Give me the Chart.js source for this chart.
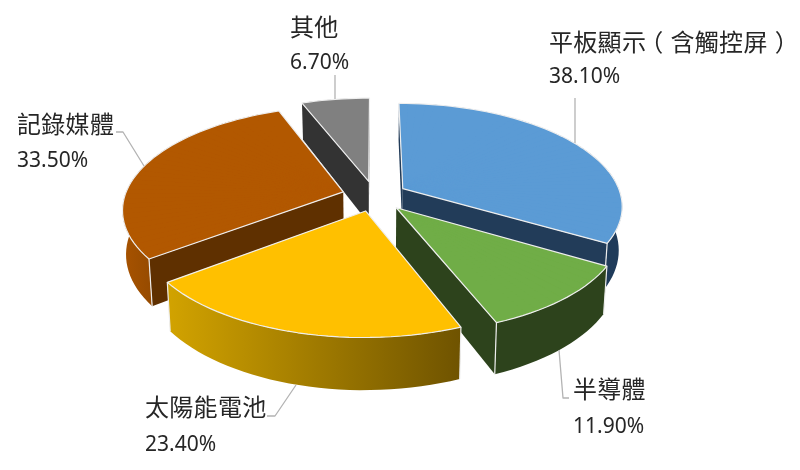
<!DOCTYPE html>
<html>
<head>
<meta charset="utf-8">
<script src="https://cdn.jsdelivr.net/npm/chart.js@4"></script>
<style>
  html, body { margin: 0; padding: 0; background: #fff; }
  canvas { display: block; }
</style>
</head>
<body>
<canvas id="pie" width="800" height="470"></canvas>
<script>
const categories = ["平板顯示（含觸控屏）", "半導體", "太陽能電池", "記錄媒體", "其他"];
const shares = [38.1, 11.9, 23.4, 33.5, 6.7];

const topColors = ["#5b9bd5", "#70ad47", "#ffc000", "#b25800", "#808080"];
const innerWallColors = ["#223c59", "#2d431c", "#7a5b00", "#5f3000", "#333333"];
const outerWallLeft = ["#1f3b5a", "#2d431c", "#d2a300", "#a85300", "#333333"];
const outerWallRight = ["#1f3b5a", "#2d431c", "#6f5300", "#8c4600", "#333333"];

// where the label block sits: x, baseline of name, baseline of percent
const labelSpots = [[549, 51, 83], [573, 398, 433], [145, 416, 451], [17, 133, 167], [290, 36, 69]];
const leaders = [
  [[575, 98], [575, 143]],
  [[569, 398], [563, 398], [559, 350]],
  [[267, 416], [275, 416], [296, 385]],
  [[116, 132], [123, 132], [144, 166]],
  [[335, 75], [335, 99]]
];

// camera for the tilted pie
const view = { cx: 374.6, cy: 196, rx: 218.5, rz: 101, persp: 0.16, depth: 43, explode: 0.15, taper: 0.014 };

function project(x, z, h) {
  const s = 1 / (1 - view.persp * z);
  return [view.cx + view.rx * x * s * (1 - view.taper * h), view.cy + (view.rz * z + view.depth * h) * s];
}

function drawTop(ctx, arc, i, ox, oz) {
  const R = arc.outerRadius;
  const steps = Math.ceil(arc.circumference / 0.05);
  const ghost = Object.create(arc);
  ghost.options = Object.assign({}, arc.options, { backgroundColor: topColors[i], borderWidth: 0 });
  const p0 = project(ox, oz, 0);

  // underlay so the seams between the wedges can't show what is behind
  ctx.fillStyle = topColors[i];
  polygon(ctx, [p0].concat(rimPoints(ox, oz, arc.startAngle, arc.endAngle, 0)));
  ctx.closePath();
  ctx.fill();

  for (let k = 0; k < steps; k++) {
    const a1 = arc.startAngle + arc.circumference * k / steps;
    const a2 = arc.startAngle + arc.circumference * (k + 1) / steps;
    const v1 = [Math.cos(a1), Math.sin(a1)];
    const v2 = [Math.cos(a2), Math.sin(a2)];
    const p1 = project(ox + v1[0], oz + v1[1], 0);
    const p2 = project(ox + v2[0], oz + v2[1], 0);
    const d1 = [p1[0] - p0[0], p1[1] - p0[1]];
    const d2 = [p2[0] - p0[0], p2[1] - p0[1]];
    const det = (v1[0] * v2[1] - v1[1] * v2[0]) * R;
    const a = (d1[0] * v2[1] - d2[0] * v1[1]) / det;
    const c = (d2[0] * v1[0] - d1[0] * v2[0]) / det;
    const b = (d1[1] * v2[1] - d2[1] * v1[1]) / det;
    const d = (d2[1] * v1[0] - d1[1] * v2[0]) / det;
    ghost.startAngle = a1;
    ghost.endAngle = a2;
    ghost.circumference = a2 - a1;
    ctx.save();
    ctx.transform(a, b, c, d, p0[0] - a * arc.x - c * arc.y, p0[1] - b * arc.x - d * arc.y);
    ghost.draw(ctx);
    ctx.restore();
  }
}

function polygon(ctx, pts) {
  ctx.beginPath();
  pts.forEach((p, n) => n ? ctx.lineTo(p[0], p[1]) : ctx.moveTo(p[0], p[1]));
}

function rimPoints(ox, oz, from, to, h) {
  const pts = [];
  const steps = Math.max(2, Math.ceil((to - from) / 0.04));
  for (let k = 0; k <= steps; k++) {
    const t = from + (to - from) * k / steps;
    pts.push(project(ox + Math.cos(t), oz + Math.sin(t), h));
  }
  return pts;
}

function signedArea(pts) {
  let sum = 0;
  pts.forEach((p, n) => {
    const q = pts[(n + 1) % pts.length];
    sum += p[0] * q[1] - q[0] * p[1];
  });
  return sum;
}

function drawSlice(ctx, arc, i) {
  const start = arc.startAngle;
  const end = arc.endAngle;
  const mid = (start + end) / 2;
  const ox = view.explode * Math.cos(mid);
  const oz = view.explode * Math.sin(mid);
  const cornerA = [ox + Math.cos(start), oz + Math.sin(start)];
  const cornerB = [ox + Math.cos(end), oz + Math.sin(end)];

  // straight cut walls, only the ones facing the viewer
  [[cornerA, -1], [cornerB, 1]].forEach(([c, facing]) => {
    const quad = [project(ox, oz, 0), project(c[0], c[1], 0), project(c[0], c[1], 1), project(ox, oz, 1)];
    if (signedArea(quad) * facing > 0) {
      ctx.fillStyle = innerWallColors[i];
      polygon(ctx, quad);
      ctx.closePath();
      ctx.fill();
    }
  });

  // curved outer wall, runs a bit past the sides so it tucks in under the top
  const from = Math.max(start, -0.5);
  const to = Math.min(end, Math.PI + 0.5);
  if (to > from) {
    const upper = rimPoints(ox, oz, from, to, 0);
    const lower = rimPoints(ox, oz, from, to, 1).reverse();
    const xs = upper.map(p => p[0]);
    const grad = ctx.createLinearGradient(Math.min(...xs), 0, Math.max(...xs), 0);
    grad.addColorStop(0, outerWallLeft[i]);
    grad.addColorStop(1, outerWallRight[i]);
    ctx.fillStyle = grad;
    polygon(ctx, upper.concat(lower));
    ctx.closePath();
    ctx.fill();
  }

  drawTop(ctx, arc, i, ox, oz);

  // light edges
  ctx.strokeStyle = "#eeeeee";
  ctx.lineWidth = 1.2;
  ctx.lineJoin = "round";
  polygon(ctx, [project(ox, oz, 0)].concat(rimPoints(ox, oz, start, end, 0)));
  ctx.closePath();
  ctx.stroke();
  [cornerA, cornerB].forEach(c => {
    if (Math.sin(Math.atan2(c[1] - oz, c[0] - ox)) > -0.5) {
      polygon(ctx, [project(c[0], c[1], 0), project(c[0], c[1], 1)]);
      ctx.stroke();
    }
  });
}

// brackets sit in the middle of their cell, as in the original label
function drawName(ctx, name, x, y) {
  Array.from(name).forEach((ch, n) => {
    const nudge = ch === "（" ? -7 : ch === "）" ? 7 : 0;
    ctx.fillText(ch, x + n * 24.3 + nudge, y);
  });
}

const tiltedPie = {
  id: "tiltedPie",
  beforeDatasetDraw(chart, args) {
    const ctx = chart.ctx;
    const arcs = args.meta.data;
    const order = arcs.map((a, i) => i).sort((m, n) =>
      Math.sin((arcs[m].startAngle + arcs[m].endAngle) / 2) - Math.sin((arcs[n].startAngle + arcs[n].endAngle) / 2));
    order.forEach(i => drawSlice(ctx, arcs[i], i));
    return false;
  },
  afterDraw(chart) {
    const ctx = chart.ctx;
    ctx.save();
    ctx.strokeStyle = "#b3b3b3";
    ctx.lineWidth = 1.3;
    leaders.forEach(pts => { polygon(ctx, pts); ctx.stroke(); });
    ctx.fillStyle = "#262626";
    ctx.textAlign = "left";
    ctx.textBaseline = "alphabetic";
    categories.forEach((name, i) => {
      const spot = labelSpots[i];
      ctx.font = '24px "Noto Sans CJK TC"';
      drawName(ctx, name, spot[0], spot[1]);
      ctx.font = '21px "Noto Sans"';
      ctx.fillText(shares[i].toFixed(2) + "%", spot[0], spot[2]);
    });
    ctx.restore();
  }
};

new Chart(document.getElementById("pie"), {
  type: "pie",
  data: {
    labels: categories,
    datasets: [{ data: shares, backgroundColor: topColors, borderWidth: 0 }]
  },
  options: {
    responsive: false,
    animation: false,
    devicePixelRatio: 1,
    plugins: { legend: { display: false }, tooltip: { enabled: false } }
  },
  plugins: [tiltedPie]
});
</script>
</body>
</html>
